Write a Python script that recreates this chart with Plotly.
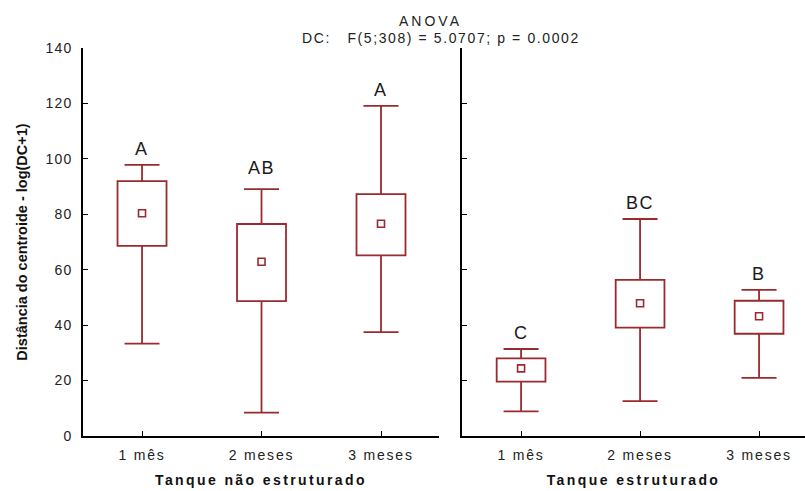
import plotly.graph_objects as go

months = ["1 mês", "2 meses", "3 meses"]
groups = ["Tanque não estruturado", "Tanque estruturado"]

# Left panel: Tanque não estruturado
nao_low = [33.3, 8.4, 37.5]
nao_q1 = [68.6, 48.7, 65.2]
nao_mean = [80.4, 62.9, 76.6]
nao_q3 = [92.0, 76.5, 87.3]
nao_high = [97.8, 89.1, 119.1]
nao_letters = ["A", "AB", "A"]

# Right panel: Tanque estruturado
est_low = [8.9, 12.6, 21.0]
est_q1 = [19.6, 39.1, 36.9]
est_mean = [24.4, 47.9, 43.2]
est_q3 = [28.0, 56.3, 48.8]
est_high = [31.4, 78.3, 52.7]
est_letters = ["C", "BC", "B"]

title_lines = ["ANOVA", "DC:   F(5;308) = 5.0707; p = 0.0002"]
y_title = "Distância do centroide - log(DC+1)"

RED = "#9a2a2e"
FONT = "Liberation Sans, Arial, sans-serif"
LW = 1.8
xpos = list(range(len(months)))


def ls(text, px):
    return '<span style="letter-spacing:%spx">%s</span>' % (px, text)


fig = go.Figure()

panels = [
    ("x", "y", nao_low, nao_q1, nao_mean, nao_q3, nao_high, nao_letters),
    ("x2", "y2", est_low, est_q1, est_mean, est_q3, est_high, est_letters),
]

for xa, ya, low, q1, mean, q3, high, letters in panels:
    # box (Q1..Q3)
    fig.add_trace(go.Bar(
        x=xpos, y=[b - a for a, b in zip(q1, q3)], base=q1, width=0.41,
        marker=dict(color="white", line=dict(color=RED, width=LW)),
        showlegend=False, hoverinfo="skip", xaxis=xa, yaxis=ya,
    ))
    # upper whisker
    fig.add_trace(go.Scatter(
        x=xpos, y=q3, mode="markers",
        marker=dict(size=1, color="rgba(0,0,0,0)"),
        error_y=dict(type="data", symmetric=False,
                     array=[h - b for b, h in zip(q3, high)],
                     arrayminus=[0] * len(q3), width=0,
                     thickness=LW, color=RED),
        showlegend=False, hoverinfo="skip", xaxis=xa, yaxis=ya,
    ))
    # lower whisker
    fig.add_trace(go.Scatter(
        x=xpos, y=q1, mode="markers",
        marker=dict(size=1, color="rgba(0,0,0,0)"),
        error_y=dict(type="data", symmetric=False,
                     array=[0] * len(q1),
                     arrayminus=[a - l for a, l in zip(q1, low)], width=0,
                     thickness=LW, color=RED),
        showlegend=False, hoverinfo="skip", xaxis=xa, yaxis=ya,
    ))
    # whisker caps
    fig.add_trace(go.Scatter(
        x=xpos + xpos, y=list(high) + list(low), mode="markers",
        marker=dict(symbol="line-ew", size=25,
                    line=dict(color=RED, width=LW)),
        showlegend=False, hoverinfo="skip", xaxis=xa, yaxis=ya,
    ))
    # mean
    fig.add_trace(go.Scatter(
        x=xpos, y=mean, mode="markers",
        marker=dict(symbol="square", size=7, color="white",
                    line=dict(color=RED, width=1.6)),
        showlegend=False, hoverinfo="skip", xaxis=xa, yaxis=ya,
    ))
    for i, (h, t) in enumerate(zip(high, letters)):
        fig.add_annotation(
            x=xpos[i], y=h, xref=xa, yref=ya, text=ls(t, 1.5),
            showarrow=False, yanchor="middle",
            yshift=21 if t == "AB" else 16,
            font=dict(family=FONT, size=18, color="#1a1a1a"),
        )

axis_common = dict(
    showline=True, linecolor="black", linewidth=1.5, ticks="inside",
    ticklen=5, tickcolor="black", showgrid=False, zeroline=False,
    mirror=False, tickfont=dict(size=14, color="#222"),
)

fig.update_layout(
    width=805, height=491,
    margin=dict(l=83, r=0, t=48, b=55),
    paper_bgcolor="white", plot_bgcolor="white",
    font=dict(family=FONT, size=14, color="#222"),
    xaxis=dict(domain=[0, 0.493], range=[-0.494, 2.485],
               tickvals=xpos, ticktext=[ls(m, 1.8) for m in months],
               ticklabelstandoff=5,
               title=dict(text="<b>" + ls(groups[0], 2.4) + "</b>",
                          font=dict(size=14, color="#111"), standoff=14),
               **axis_common),
    xaxis2=dict(domain=[0.525, 1], range=[-0.496, 2.386], anchor="y2",
                tickvals=xpos, ticktext=[ls(m, 1.8) for m in months],
                ticklabelstandoff=5,
                title=dict(text="<b>" + ls(groups[1], 2.4) + "</b>",
                           font=dict(size=14, color="#111"), standoff=14),
                **axis_common),
    yaxis=dict(range=[0, 140], tickvals=[0, 20, 40, 60, 80, 100, 120, 140],
               ticktext=[ls(str(v), 1.2) for v in [0, 20, 40, 60, 80, 100, 120, 140]],
               ticklabelstandoff=6,
               title=dict(text="<b>" + y_title + "</b>",
                          font=dict(size=14.5, color="#111"), standoff=14),
               **axis_common),
    yaxis2=dict(range=[0, 140], dtick=20, anchor="x2", showticklabels=False,
                **axis_common),
)

# Title lines, positioned relative to the plot area (top 48px, bottom 436px)
fig.add_annotation(
    x=(430 - 83) / 722, y=(436 - 20.7) / 388, xref="paper", yref="paper",
    text=ls(title_lines[0], 3), showarrow=False, yanchor="middle",
    font=dict(size=14, color="#222"),
)
fig.add_annotation(
    x=(441 - 83) / 722, y=(436 - 38) / 388, xref="paper", yref="paper",
    text=ls(title_lines[1], 1.6), showarrow=False, yanchor="middle",
    font=dict(size=14, color="#222"),
)

fig.write_html("out.html")
